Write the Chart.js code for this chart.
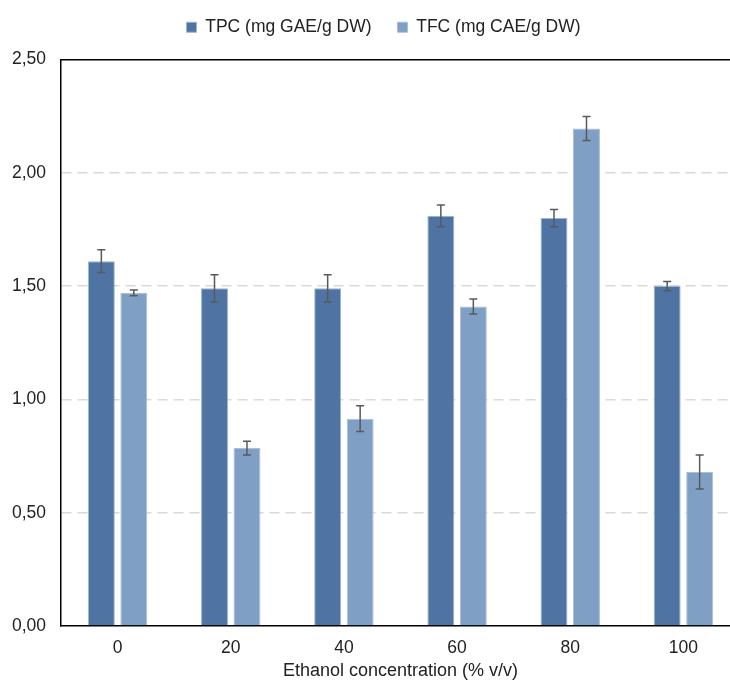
<!DOCTYPE html>
<html>
<head>
<meta charset="utf-8">
<script src="https://cdn.jsdelivr.net/npm/chart.js@4.4.1/dist/chart.umd.min.js"></script>
<style>
  html, body { margin: 0; padding: 0; background: #fff; overflow: hidden; }
  #wrap { width: 750px; height: 680px; }
</style>
</head>
<body>
<div id="wrap"><canvas id="chart" width="750" height="680"></canvas></div>
<script>
// data
const concentrations = ["0", "20", "40", "60", "80", "100"];
const tpcValues = [1.61, 1.49, 1.49, 1.81, 1.80, 1.50];
const tpcErrors = [0.05, 0.06, 0.06, 0.048, 0.038, 0.02];
const tfcValues = [1.47, 0.785, 0.915, 1.41, 2.195, 0.68];
const tfcErrors = [0.013, 0.03, 0.057, 0.033, 0.053, 0.075];
const yTicks = [0, 0.5, 1, 1.5, 2, 2.5];

const fontFamily = "'Liberation Sans', Arial, sans-serif";

// draws the +/- error bars on top of each bar
const errorBars = {
  id: "errorBars",
  afterDatasetsDraw(chart) {
    const ctx = chart.ctx;
    const y = chart.scales.y;
    ctx.save();
    ctx.strokeStyle = "#595959";
    ctx.lineWidth = 1.5;
    chart.data.datasets.forEach((ds, i) => {
      const meta = chart.getDatasetMeta(i);
      meta.data.forEach((bar, j) => {
        const v = ds.data[j], e = ds.errors[j];
        const top = y.getPixelForValue(v + e);
        const bot = y.getPixelForValue(v - e);
        const half = 4;
        ctx.beginPath();
        ctx.moveTo(bar.x, top); ctx.lineTo(bar.x, bot);
        ctx.moveTo(bar.x - half, top); ctx.lineTo(bar.x + half, top);
        ctx.moveTo(bar.x - half, bot); ctx.lineTo(bar.x + half, bot);
        ctx.stroke();
      });
    });
    ctx.restore();
  }
};

// nudge the legend: wide item spacing but kept close to the top edge
const legendShift = {
  id: "legendShift",
  afterLayout(chart) {
    const lg = chart.legend;
    if (!lg) return;
    lg.top -= 13.5; lg.bottom -= 13.5;
    lg.left += 8.5; lg.right += 8.5;
  }
};

new Chart(document.getElementById("chart"), {
  type: "bar",
  data: {
    labels: concentrations,
    datasets: [
      {
        label: "TPC (mg GAE/g DW)",
        data: tpcValues,
        errors: tpcErrors,
        backgroundColor: "#4f74a3",
        borderColor: "#9db4d2",
        borderWidth: 1,
        categoryPercentage: 0.574,
        barPercentage: 0.83
      },
      {
        label: "TFC (mg CAE/g DW)",
        data: tfcValues,
        errors: tfcErrors,
        backgroundColor: "#809fc4",
        borderColor: "#a9bfda",
        borderWidth: 1,
        categoryPercentage: 0.574,
        barPercentage: 0.83
      }
    ]
  },
  options: {
    responsive: false,
    animation: false,
    layout: { padding: { left: 10, right: 10, top: 6, bottom: 0 } },
    plugins: {
      legend: {
        position: "top",
        labels: {
          boxWidth: 10,
          boxHeight: 10,
          padding: 26,
          color: "#222",
          font: { family: fontFamily, size: 17.5 }
        }
      },
      tooltip: { enabled: false }
    },
    scales: {
      x: {
        grid: { display: false, drawTicks: false },
        border: { display: true, color: "#000", width: 1.5 },
        ticks: { color: "#222", padding: 12, font: { family: fontFamily, size: 17.5 } },
        title: {
          display: true,
          text: "Ethanol concentration (% v/v)",
          color: "#222",
          padding: { top: 0, bottom: -2 },
          font: { family: fontFamily, size: 18 }
        },
        afterFit(scale) { scale.height = 54; }
      },
      // top frame line of the plot area
      xTop: {
        type: "category",
        position: "top",
        grid: { display: false, drawTicks: false },
        border: { display: true, color: "#000", width: 1.5 },
        ticks: { display: false },
        afterFit(scale) { scale.height = 0; }
      },
      y: {
        min: 0,
        max: 2.5,
        afterBuildTicks(scale) { scale.ticks = yTicks.map(v => ({ value: v })); },
        grid: {
          drawTicks: false,
          lineWidth: 1.5,
          color: c => (c.tick && (c.tick.value === 0 || c.tick.value === 2.5)) ? "rgba(0,0,0,0)" : "#d9d9d9"
        },
        border: { display: true, color: "#000", width: 1.5, dash: [10, 6] },
        ticks: {
          color: "#222",
          padding: 15,
          font: { family: fontFamily, size: 17.5 },
          callback: v => v.toFixed(2).replace(".", ",")
        },
        afterFit(scale) { scale.width = 51; }
      }
    }
  },
  plugins: [errorBars, legendShift]
});
</script>
</body>
</html>
